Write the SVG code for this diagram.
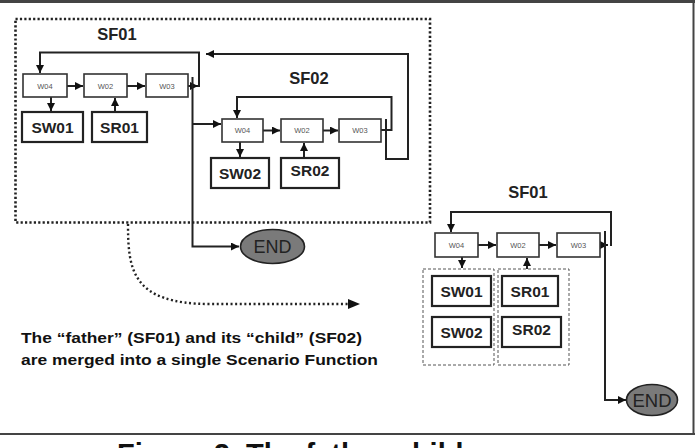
<svg xmlns="http://www.w3.org/2000/svg" width="695" height="448" viewBox="0 0 695 448">
<style>
.bg{fill:#fff}
.frame{stroke:#444;fill:none}
.dotbox{fill:none;stroke:#222;stroke-width:2.6;stroke-dasharray:2.2 2.2}
.dash{fill:none;stroke:#555;stroke-width:1;stroke-dasharray:3 2}
.w{fill:#fff;stroke:#333;stroke-width:1.6}
.s{fill:#fff;stroke:#222;stroke-width:2.2}
.wt{font-family:"Liberation Sans",Arial,sans-serif;font-size:7.5px;fill:#555;text-anchor:middle}
.st{font-family:"Liberation Sans",Arial,sans-serif;font-size:15.5px;font-weight:bold;fill:#222;text-anchor:middle}
.sf{font-family:"Liberation Sans",Arial,sans-serif;font-size:16.5px;font-weight:bold;fill:#222;text-anchor:middle}
.end{fill:#7a7a7a;stroke:#222;stroke-width:1.6}
.et{font-family:"Liberation Sans",Arial,sans-serif;font-size:18px;fill:#222;text-anchor:middle}
.c{fill:none;stroke:#222;stroke-width:2}
.cap{font-family:"Liberation Sans",Arial,sans-serif;font-size:15.5px;font-weight:bold;fill:#111}
</style>
<defs>
<marker id="ah" markerUnits="userSpaceOnUse" markerWidth="9" markerHeight="8" refX="8" refY="4" orient="auto">
<path d="M0,0 L8,4 L0,8 Z" fill="#111"/>
</marker>
</defs>
<rect class="bg" x="0" y="0" width="695" height="448"/>
<g id="frame">
<line class="frame" x1="0" y1="1.5" x2="695" y2="1.5" stroke-width="3"/>
<line class="frame" x1="693.5" y1="0" x2="693.5" y2="435" stroke-width="2"/>
<line class="frame" x1="0" y1="434" x2="695" y2="434" stroke-width="2.2"/>
</g>
<g id="father-box">
<rect class="dotbox" x="15.5" y="19" width="414.5" height="203.5"/>
</g>

<g id="connectors">
<path class="c" d="M67,86 H83" marker-end="url(#ah)"/>
<path class="c" d="M127,86 H145" marker-end="url(#ah)"/>
<path class="c" d="M51,97 V111" marker-end="url(#ah)"/>
<path class="c" d="M115,112 V98" marker-end="url(#ah)"/>
<path class="c" d="M188,86 H198" marker-end="url(#ah)"/>
<path class="c" d="M199,87 V52.5 H40 V73" marker-end="url(#ah)"/>
<path class="c" d="M192.5,77 V246.5 H239" stroke-width="1.8" marker-end="url(#ah)"/>
<path class="c" d="M193,124 H221" stroke-width="1.8" marker-end="url(#ah)"/>
<path class="c" d="M386,119 V159 H408 V54 H206" stroke-width="1.8" marker-end="url(#ah)"/>
<path class="c" d="M263,130.5 H280" marker-end="url(#ah)"/>
<path class="c" d="M323,130.5 H338" marker-end="url(#ah)"/>
<path class="c" d="M381,130 H391.5 V97 H237 V118" stroke-width="1.8" marker-end="url(#ah)"/>
<path class="c" d="M240,142 V157" stroke-width="1.8" marker-end="url(#ah)"/>
<path class="c" d="M304,158 V143" stroke-width="1.8" marker-end="url(#ah)"/>
<path d="M128,224 C128,270 132,304 210,304 H350" fill="none" stroke="#222" stroke-width="2.4" stroke-dasharray="2 2.6"/>
<path d="M348,299 L360,304 L348,309 Z" fill="#111"/>
<path class="c" d="M478,245 H496" marker-end="url(#ah)"/>
<path class="c" d="M539,245 H556" marker-end="url(#ah)"/>
<path class="c" d="M600,245 H608" marker-end="url(#ah)"/>
<path class="c" d="M611,246 V212 H451 V232" marker-end="url(#ah)"/>
<path class="c" d="M605,231 V400 H626" stroke-width="1.8" marker-end="url(#ah)"/>
<path class="c" d="M462,257 V268" stroke-width="1.8" marker-end="url(#ah)"/>
<path class="c" d="M527,269 V258" stroke-width="1.8" marker-end="url(#ah)"/>
</g>

<g id="label-SF01"><text class="sf" x="117" y="40">SF01</text></g>
<g id="W04-a"><rect class="w" x="23" y="74" width="44" height="23"/><text class="wt" x="45" y="88.5">W04</text></g>
<g id="W02-a"><rect class="w" x="84" y="74" width="43" height="23"/><text class="wt" x="105.5" y="88.5">W02</text></g>
<g id="W03-a"><rect class="w" x="146" y="74" width="42" height="23"/><text class="wt" x="167" y="88.5">W03</text></g>
<g id="SW01-a"><rect class="s" x="22" y="112" width="61" height="30"/><text class="st" x="52.5" y="132.5">SW01</text></g>
<g id="SR01-a"><rect class="s" x="92" y="112" width="55" height="30"/><text class="st" x="119.5" y="132.5">SR01</text></g>

<g id="label-SF02"><text class="sf" x="309" y="84">SF02</text></g>
<g id="W04-b"><rect class="w" x="222" y="119" width="41" height="23"/><text class="wt" x="242.5" y="133">W04</text></g>
<g id="W02-b"><rect class="w" x="281" y="119" width="42" height="23"/><text class="wt" x="302" y="133">W02</text></g>
<g id="W03-b"><rect class="w" x="339" y="119" width="42" height="23"/><text class="wt" x="360" y="133">W03</text></g>
<g id="SW02-a"><rect class="s" x="211" y="158" width="58" height="30"/><text class="st" x="240" y="178.5">SW02</text></g>
<g id="SR02-a"><rect class="s" x="281" y="158" width="58" height="30"/><text class="st" x="310" y="176">SR02</text></g>

<g id="END-a"><ellipse class="end" cx="272.5" cy="246.5" rx="32" ry="17"/><text class="et" x="272.5" y="253">END</text></g>

<g id="note">
<text class="cap" x="21" y="343" textLength="341" lengthAdjust="spacingAndGlyphs">The “father” (SF01) and its “child” (SF02)</text>
<text class="cap" x="21" y="365" textLength="357" lengthAdjust="spacingAndGlyphs">are merged into a single Scenario Function</text>
</g>

<g id="label-SF01-merged"><text class="sf" x="528" y="198">SF01</text></g>
<g id="W04-c"><rect class="w" x="435" y="233" width="43" height="24"/><text class="wt" x="456.5" y="247.5">W04</text></g>
<g id="W02-c"><rect class="w" x="497" y="233" width="42" height="24"/><text class="wt" x="518" y="247.5">W02</text></g>
<g id="W03-c"><rect class="w" x="557" y="233" width="43" height="24"/><text class="wt" x="578.5" y="247.5">W03</text></g>
<g id="SW-group"><rect class="dash" x="423" y="269" width="71" height="96"/></g>
<g id="SR-group"><rect class="dash" x="498" y="269" width="71" height="96"/></g>
<g id="SW01-c"><rect class="s" x="432" y="276" width="59" height="30"/><text class="st" x="461.5" y="296.5">SW01</text></g>
<g id="SW02-c"><rect class="s" x="432" y="317" width="59" height="30"/><text class="st" x="461.5" y="337.5">SW02</text></g>
<g id="SR01-c"><rect class="s" x="502" y="276" width="56" height="30"/><text class="st" x="530" y="296.5">SR01</text></g>
<g id="SR02-c"><rect class="s" x="502" y="317" width="59" height="30"/><text class="st" x="531.5" y="334.5">SR02</text></g>
<g id="END-c"><ellipse class="end" cx="652" cy="400" rx="25.5" ry="15.5"/><text class="et" x="652" y="406.5" style="font-size:18.5px">END</text></g>

<g id="caption"><text x="117" y="464" style="font-family:'Liberation Sans',Arial,sans-serif;font-size:29px;font-weight:bold;fill:#111">Figure 2. The father-child merge</text></g>
</svg>
